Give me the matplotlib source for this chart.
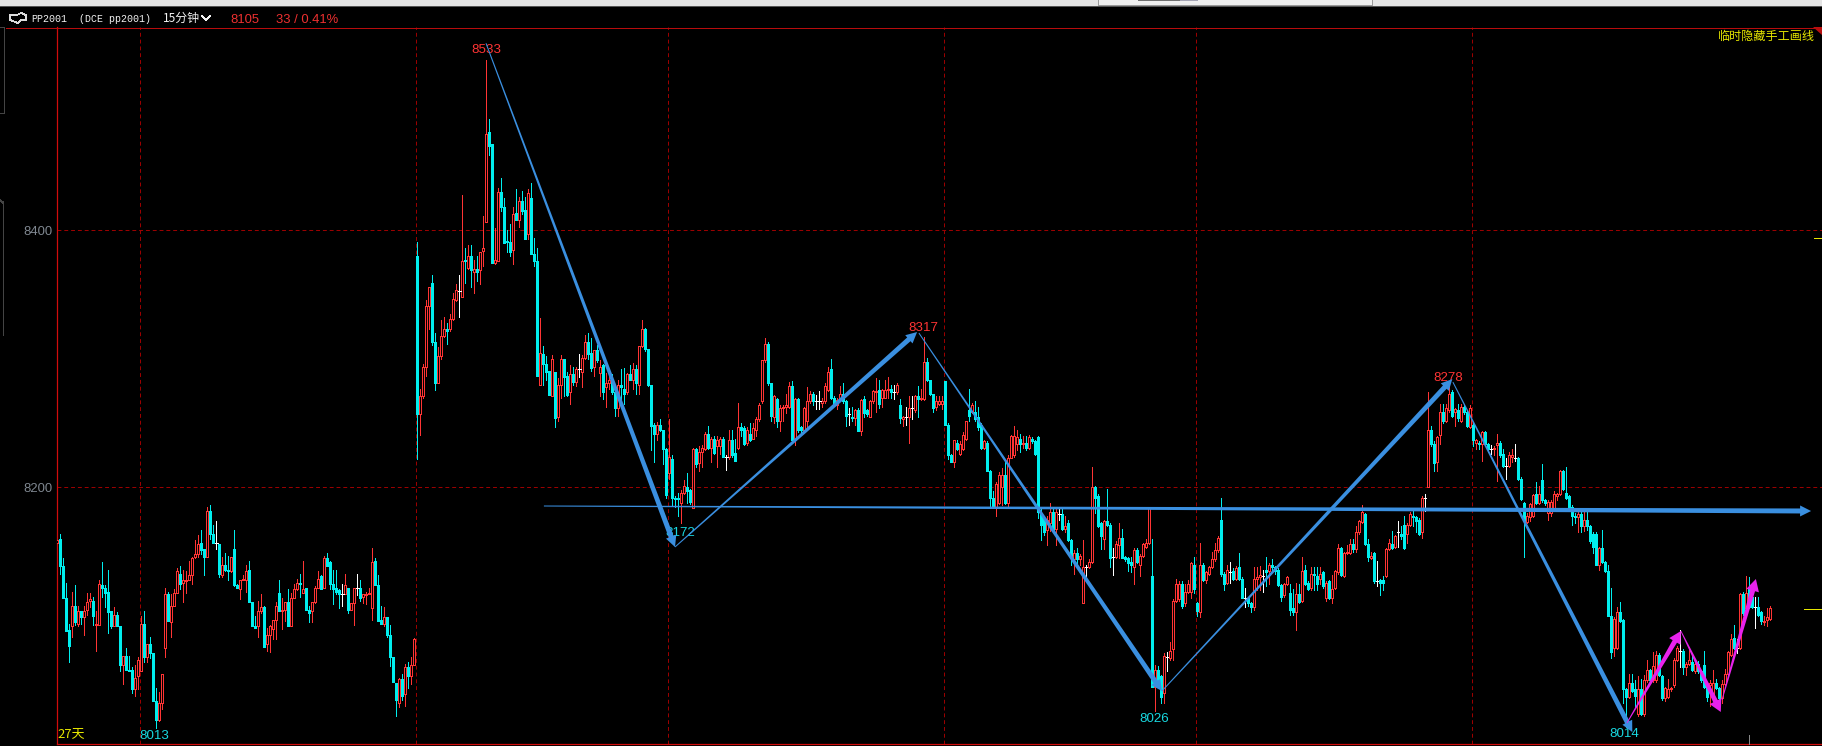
import numpy as np
import matplotlib
matplotlib.use("Agg")
import matplotlib.pyplot as plt
from matplotlib.patches import Polygon, Rectangle
from matplotlib.transforms import IdentityTransform

W, H = 1822, 746

# candle values
opens = [
    8157,8160,8139,8114,8089,8092,8108,8094,8104,8099,
    8105,8112,8112,8093,8093,8124,8122,8119,8104,8092,
    8101,8092,8062,8069,8058,8058,8043,8053,8057,8094,
    8068,8078,8071,8034,8019,8032,8075,8117,8095,8108,
    8118,8133,8126,8127,8128,8132,8146,8148,8157,8152,
    8146,8182,8164,8157,8156,8132,8140,8136,8135,8152,
    8124,8121,8128,8128,8136,8111,8092,8092,8104,8107,
    8078,8085,8090,8097,8118,8104,8105,8111,8092,8114,
    8121,8126,8118,8122,8105,8104,8111,8122,8131,8122,
    8145,8142,8125,8122,8120,8117,8117,8122,8105,8110,
    8122,8122,8115,8116,8117,8106,8143,8124,8097,8094,
    8099,8085,8068,8048,8032,8051,8039,8060,8053,8062,
    8380,8257,8271,8294,8341,8359,8313,8281,8302,8318,
    8323,8323,8331,8346,8353,8348,8377,8371,8380,8368,
    8370,8369,8384,8407,8477,8467,8375,8376,8430,8418,
    8392,8391,8385,8414,8408,8423,8416,8397,8425,8382,
    8376,8280,8304,8296,8291,8271,8290,8255,8280,8300,
    8287,8274,8288,8282,8292,8290,8301,8313,8305,8294,
    8307,8289,8295,8278,8281,8284,8274,8262,8280,8277,
    8274,8288,8284,8292,8280,8310,8323,8308,8280,8249,
    8242,8249,8245,8230,8211,8222,8192,8192,8188,8196,
    8200,8198,8184,8230,8219,8228,8230,8242,8231,8238,
    8232,8232,8238,8224,8224,
    8237,8227,8231,8247,8246,8235,8242,8238,8245,8253,
    8267,8299,8312,8281,8255,8269,8252,8262,8263,8263,
    8279,8237,8269,8247,8245,8252,8267,8273,8267,8267,
    8266,8267,8276,8292,8270,8264,8268,8273,8267,8257,
    8255,8254,8260,8244,8269,8260,8255,8267,8274,8276,
    8270,8270,8276,8277,8274,8274,8264,8253,8255,8255,
    8262,8260,8271,8269,8269,8298,8284,8273,8263,8265,
    8265,8283,8249,8225,8220,8235,8226,8230,8238,8260,
    8259,8259,8255,8249,8231,8235,8213,8192,8185,8188,
    8200,8210,8188,8223,8225,8234,8238,8234,8235,8231,
    8238,8236,8239,
    8179,8176,8167,8172,8181,8168,8179,8179,8168,8172,
    8159,8144,8149,8144,8110,8138,8138,8142,8200,8193,
    8172,8160,8174,8171,8146,8146,8155,8161,8146,8145,
    8142,8138,8151,8140,8147,8154,8157,8131,8045,8058,
    8053,8040,8068,8067,8074,8112,8113,8125,8110,8119,
    8119,8140,8110,8103,8140,8128,8133,8138,8144,8151,
    8175,8133,8126,8134,8135,8129,8138,8129,8114,8114,
    8110,8107,8129,8130,8131,8136,8135,8140,8138,8136,
    8124,8116,8125,8118,8106,8103,8117,8112,8136,8126,
    8122,8133,8131,8129,8134,8114,8127,8114,8122,8134,
    8153,8131,8149,8149,8156,8152,8165,8173,8179,8156,
    8145,8149,8127,8128,8128,8131,8152,8156,8154,8165,
    8164,8171,8164,8171,8178,8177,8175,8165,8192,
    8200,8245,8234,8220,8241,8259,8252,8260,8274,8259,
    8260,8252,8263,8259,8247,8249,8235,8235,8234,8243,
    8234,8230,8230,8233,8235,8226,8217,8217,8224,8223,
    8223,8207,8188,8173,8177,8178,8195,8188,8206,8190,
    8180,8180,8184,8193,8195,8213,8196,8193,8185,8178,
    8177,8179,8170,8175,8170,8164,8164,8140,8153,8142,
    8135,8100,8075,8075,8103,8097,8043,8037,8048,8043,
    8024,8043,8024,8050,8058,8050,8050,8070,8053,8036,
    8037,8043,8046,8066,8073,8073,8060,8063,8064,8057,
    8063,8057,8062,8046,8046,8036,8048,8044,8036,8047,
    8055,8070,8083,8075,8075,8117,8106,8121,8115,8107,
    8107,8103,8095,8097,8098,
]
closes = [
    8159,8139,8114,8088,8077,8108,8095,8104,8099,8104,
    8111,8113,8100,8094,8125,8122,8118,8103,8092,8101,
    8092,8062,8069,8058,8057,8043,8052,8066,8094,8068,
    8078,8071,8034,8019,8032,8055,8117,8096,8108,8118,
    8135,8125,8128,8128,8132,8145,8148,8156,8151,8146,
    8182,8164,8157,8157,8133,8140,8136,8135,8146,8124,
    8122,8128,8129,8135,8111,8092,8091,8104,8107,8076,
    8085,8092,8097,8108,8104,8105,8111,8092,8114,8121,
    8126,8125,8121,8105,8102,8111,8122,8129,8121,8145,
    8139,8125,8121,8119,8117,8117,8124,8105,8110,8122,
    8122,8114,8117,8117,8118,8142,8124,8096,8094,8099,
    8085,8068,8049,8035,8051,8038,8060,8053,8062,8082,
    8257,8271,8294,8341,8356,8313,8281,8302,8318,8323,
    8322,8331,8347,8354,8353,8376,8376,8380,8369,8370,
    8368,8383,8386,8475,8466,8375,8377,8430,8418,8390,
    8391,8383,8413,8408,8423,8415,8393,8429,8382,8376,
    8287,8305,8296,8290,8272,8300,8254,8280,8300,8286,
    8272,8288,8282,8292,8292,8301,8313,8304,8293,8307,
    8299,8294,8274,8281,8284,8274,8262,8280,8278,8273,
    8288,8284,8292,8281,8310,8323,8308,8280,8248,8242,
    8249,8245,8230,8194,8224,8192,8191,8191,8196,8201,
    8197,8189,8230,8218,8228,8231,8242,8231,8238,8227,
    8237,8238,8224,8224,8237,
    8225,8221,8247,8245,8234,8245,8237,8246,8253,8264,
    8299,8312,8281,8256,8271,8252,8262,8263,8264,8279,
    8237,8269,8245,8245,8262,8267,8273,8267,8267,8267,
    8267,8279,8290,8270,8265,8268,8273,8267,8256,8257,
    8254,8260,8244,8268,8258,8257,8267,8275,8275,8265,
    8276,8276,8277,8274,8274,8280,8254,8255,8255,8262,
    8262,8271,8269,8270,8298,8284,8273,8262,8267,8267,
    8267,8249,8225,8220,8237,8230,8234,8241,8252,8256,
    8264,8253,8247,8231,8236,8213,8192,8185,8203,8210,
    8210,8188,8223,8240,8240,8239,8234,8235,8231,8239,
    8236,8226,8181,
    8171,8165,8175,8181,8167,8181,8179,8168,8170,8159,
    8146,8149,8144,8147,8138,8138,8142,8200,8192,8170,
    8162,8174,8171,8145,8146,8156,8161,8145,8144,8141,
    8140,8151,8142,8147,8156,8157,8184,8045,8058,8046,
    8037,8069,8068,8073,8112,8125,8125,8108,8119,8125,
    8141,8121,8104,8140,8128,8134,8138,8144,8151,8161,
    8133,8125,8136,8134,8129,8137,8129,8114,8114,8110,
    8107,8129,8130,8132,8131,8134,8140,8138,8135,8124,
    8115,8125,8130,8105,8103,8117,8111,8135,8125,8121,
    8133,8132,8125,8133,8123,8126,8114,8121,8135,8153,
    8132,8149,8150,8156,8152,8165,8174,8181,8156,8146,
    8147,8127,8127,8126,8126,8152,8157,8153,8162,8165,
    8162,8153,8171,8179,8177,8174,8164,8192,8192,
    8245,8234,8219,8239,8259,8252,8262,8273,8256,8261,
    8254,8263,8259,8248,8262,8237,8237,8234,8243,8234,
    8230,8230,8231,8235,8225,8217,8217,8225,8225,8223,
    8207,8191,8174,8178,8187,8194,8188,8195,8190,8188,
    8189,8189,8195,8195,8213,8199,8192,8185,8178,8177,
    8179,8170,8175,8170,8158,8154,8140,8153,8142,8135,
    8100,8072,8098,8103,8096,8043,8037,8048,8042,8038,
    8043,8024,8050,8058,8050,8061,8070,8054,8036,8044,
    8043,8044,8066,8075,8073,8060,8063,8066,8058,8063,
    8057,8050,8045,8037,8048,8048,8044,8036,8047,8055,
    8072,8082,8075,8075,8117,8102,8118,8107,8107,8107,
    8101,8096,8096,8099,8106,
]
highs = [
    8171,8164,8145,8126,8094,8119,8124,8108,8104,8108,
    8118,8118,8115,8104,8128,8142,8124,8136,8104,8107,
    8103,8092,8069,8075,8069,8060,8062,8068,8100,8104,
    8078,8084,8071,8044,8041,8055,8122,8119,8117,8121,
    8137,8139,8136,8135,8143,8146,8159,8163,8167,8152,
    8185,8186,8171,8174,8156,8146,8149,8147,8146,8167,
    8125,8128,8132,8140,8143,8111,8100,8112,8117,8108,
    8091,8093,8097,8111,8128,8114,8111,8121,8118,8125,
    8129,8133,8143,8122,8108,8111,8123,8135,8132,8147,
    8149,8143,8136,8136,8121,8125,8133,8122,8110,8122,
    8133,8128,8117,8119,8122,8153,8145,8132,8108,8107,
    8099,8093,8068,8048,8052,8055,8063,8064,8068,8083,
    8391,8277,8296,8346,8356,8365,8320,8309,8330,8333,
    8328,8335,8351,8358,8365,8428,8386,8389,8389,8377,
    8380,8383,8411,8533,8487,8467,8402,8433,8441,8425,
    8400,8405,8418,8432,8426,8431,8426,8432,8437,8394,
    8386,8332,8310,8302,8291,8303,8290,8285,8303,8300,
    8290,8295,8294,8294,8304,8303,8319,8320,8316,8307,
    8311,8299,8296,8289,8290,8288,8274,8284,8292,8293,
    8289,8295,8297,8295,8310,8330,8324,8308,8280,8250,
    8251,8253,8245,8231,8253,8225,8193,8196,8198,8206,
    8211,8199,8231,8231,8232,8233,8243,8248,8239,8240,
    8240,8239,8239,8225,8245,
    8245,8238,8266,8250,8248,8247,8250,8250,8255,8266,
    8299,8316,8313,8281,8272,8270,8264,8264,8273,8282,
    8283,8270,8270,8248,8263,8278,8275,8274,8272,8275,
    8270,8281,8294,8300,8271,8270,8279,8281,8268,8262,
    8263,8261,8262,8269,8271,8261,8268,8276,8285,8284,
    8277,8284,8286,8280,8280,8281,8269,8256,8263,8271,
    8271,8272,8279,8277,8317,8301,8284,8273,8271,8271,
    8271,8283,8250,8226,8237,8237,8236,8243,8252,8277,
    8266,8267,8263,8250,8237,8236,8214,8197,8204,8212,
    8215,8221,8225,8241,8248,8245,8242,8240,8240,8241,
    8239,8237,8240,
    8183,8178,8178,8188,8184,8184,8184,8183,8178,8175,
    8160,8151,8153,8148,8159,8140,8144,8216,8201,8195,
    8173,8175,8199,8172,8153,8158,8172,8168,8147,8146,
    8146,8153,8153,8148,8157,8160,8185,8160,8062,8061,
    8054,8071,8072,8080,8113,8129,8127,8127,8125,8128,
    8142,8146,8111,8157,8141,8135,8139,8150,8157,8162,
    8192,8134,8140,8142,8137,8139,8149,8130,8122,8115,
    8111,8138,8138,8139,8136,8146,8141,8144,8139,8137,
    8125,8126,8131,8125,8121,8126,8125,8146,8140,8127,
    8138,8138,8138,8138,8135,8127,8128,8132,8136,8156,
    8154,8150,8155,8160,8160,8170,8175,8186,8180,8160,
    8150,8150,8143,8129,8131,8153,8160,8166,8163,8174,
    8170,8178,8172,8181,8182,8178,8176,8193,8195,
    8274,8248,8236,8240,8265,8265,8265,8278,8276,8262,
    8265,8265,8265,8260,8264,8250,8238,8236,8244,8244,
    8235,8233,8232,8242,8236,8230,8223,8228,8230,8234,
    8224,8208,8189,8180,8188,8195,8204,8201,8218,8191,
    8190,8190,8197,8196,8214,8214,8216,8194,8186,8180,
    8182,8181,8182,8184,8171,8165,8165,8154,8167,8143,
    8140,8122,8099,8107,8111,8098,8044,8055,8055,8050,
    8053,8051,8054,8066,8059,8072,8073,8071,8054,8045,
    8051,8045,8067,8077,8089,8074,8064,8076,8070,8064,
    8065,8058,8073,8047,8050,8058,8051,8045,8050,8059,
    8073,8086,8093,8082,8118,8119,8131,8130,8116,8115,
    8115,8104,8100,8106,8108,
]
lows = [
    8157,8133,8114,8088,8064,8084,8093,8092,8094,8085,
    8101,8107,8093,8073,8093,8115,8107,8087,8091,8092,
    8092,8057,8047,8058,8057,8040,8038,8043,8057,8064,
    8064,8067,8034,8013,8018,8028,8068,8096,8084,8108,
    8118,8121,8111,8118,8128,8125,8145,8146,8148,8132,
    8146,8160,8157,8152,8130,8130,8135,8128,8134,8123,
    8122,8113,8128,8119,8111,8092,8091,8084,8102,8076,
    8073,8072,8082,8082,8104,8090,8096,8092,8092,8114,
    8120,8115,8118,8105,8095,8095,8110,8122,8121,8122,
    8139,8121,8109,8117,8106,8108,8117,8102,8105,8093,
    8116,8112,8110,8109,8117,8097,8124,8096,8094,8092,
    8084,8061,8049,8022,8029,8035,8030,8044,8047,8062,
    8222,8241,8270,8287,8323,8311,8276,8281,8300,8317,
    8312,8322,8330,8345,8333,8348,8359,8370,8356,8351,
    8361,8358,8372,8407,8459,8375,8374,8376,8415,8390,
    8383,8380,8374,8408,8403,8413,8393,8393,8382,8372,
    8287,8280,8280,8284,8272,8271,8247,8252,8270,8271,
    8271,8265,8280,8279,8286,8278,8300,8300,8291,8287,
    8298,8271,8269,8263,8277,8273,8256,8256,8269,8265,
    8273,8284,8277,8273,8273,8309,8306,8279,8229,8220,
    8237,8244,8218,8192,8207,8186,8185,8178,8172,8195,
    8188,8187,8184,8216,8213,8216,8229,8230,8220,8226,
    8216,8226,8224,8214,8222,
    8224,8221,8230,8240,8233,8233,8236,8238,8240,8252,
    8266,8298,8280,8252,8250,8247,8244,8252,8258,8262,
    8236,8233,8243,8242,8243,8245,8266,8264,8261,8261,
    8263,8266,8275,8269,8264,8261,8267,8266,8248,8249,
    8252,8249,8244,8241,8255,8256,8255,8266,8259,8262,
    8263,8270,8270,8270,8269,8273,8250,8248,8249,8235,
    8253,8259,8255,8268,8268,8283,8272,8259,8260,8264,
    8261,8249,8222,8220,8216,8229,8225,8229,8237,8252,
    8258,8252,8245,8230,8230,8213,8184,8184,8178,8187,
    8186,8187,8185,8223,8224,8229,8228,8231,8229,8230,
    8235,8225,8176,
    8159,8163,8155,8166,8166,8155,8175,8167,8165,8158,
    8140,8133,8137,8140,8110,8129,8137,8141,8180,8169,
    8152,8152,8170,8138,8132,8145,8145,8145,8143,8135,
    8134,8125,8141,8131,8146,8153,8156,8045,8026,8045,
    8032,8032,8057,8066,8066,8111,8112,8106,8108,8118,
    8114,8118,8100,8099,8127,8126,8132,8137,8143,8150,
    8131,8120,8125,8126,8128,8128,8128,8114,8107,8108,
    8103,8105,8120,8120,8119,8123,8125,8136,8133,8123,
    8112,8115,8124,8101,8101,8089,8110,8111,8124,8120,
    8120,8120,8120,8125,8122,8112,8113,8110,8121,8133,
    8131,8130,8148,8148,8150,8150,8164,8172,8155,8143,
    8144,8126,8123,8116,8120,8130,8151,8152,8153,8154,
    8160,8152,8157,8170,8170,8165,8163,8161,8182,
    8200,8232,8213,8213,8234,8250,8251,8259,8255,8248,
    8252,8251,8257,8247,8246,8232,8230,8230,8221,8233,
    8228,8226,8225,8205,8224,8216,8207,8216,8220,8221,
    8206,8190,8146,8172,8174,8177,8187,8187,8189,8186,
    8175,8178,8183,8190,8194,8198,8191,8184,8171,8172,
    8165,8165,8166,8167,8157,8149,8140,8136,8141,8134,
    8100,8067,8069,8074,8095,8032,8014,8036,8041,8029,
    8022,8023,8022,8049,8049,8049,8049,8053,8035,8034,
    8036,8042,8045,8065,8060,8055,8054,8062,8057,8056,
    8056,8049,8044,8034,8030,8035,8043,8032,8032,8046,
    8054,8069,8074,8071,8074,8101,8102,8106,8106,8091,
    8100,8094,8093,8092,8097,
]

price_ticks = [8200, 8400]
day_lines = [27.67, 119.67, 203.67, 295.67, 379.67, 471.67]

# swing labels: index, price, text
swing_x = [142.9, 207.6, 288.6, 365.6, 463.6, 522.2, 32.2]
swing_y = [8540.5, 8164.6, 8324.0, 8019.9, 8285.2, 8008.2, 8006.6]
swing_text = ["8533", "8172", "8317", "8026", "8278", "8014", "8013"]
swing_up = [True, False, True, False, True, False, False]

# hand drawn arrows: start index, start price, end index, end price
blue_x0 = [142.9, 205.9, 287.2, 368.2, 465.2, 162.2]
blue_y0 = [8545.7, 8153.7, 8320.2, 8041.6, 8282.0, 8185.6]
blue_x1 = [205.9, 286.6, 368.2, 465.0, 525.0, 584.6]
blue_y1 = [8153.7, 8321.0, 8041.6, 8284.4, 8009.7, 8181.7]
pink_x0 = [523.2, 541.2, 554.9]
pink_y0 = [8016.7, 8088.3, 8034.6]
pink_x1 = [541.2, 554.5, 566.2]
pink_y1 = [8088.3, 8025.3, 8128.8]

RED = "#ff3434"
CYAN = "#00eeee"
GRID = "#a00000"
AXIS = "#b80c0c"
BLUE = "#3a8fe0"
PINK = "#e822ec"
YELLOW = "#e6e600"
CJK = ["Noto Sans CJK SC", "DejaVu Sans"]

fig = plt.figure(figsize=(W / 100, H / 100), dpi=100, facecolor="black")
left, right, top, bottom = 56.5, W, 27.0, 744.0
ax = fig.add_axes([left / W, 1 - bottom / H, (right - left) / W, (bottom - top) / H])
ax.set_facecolor("black")
ax.set_xlim((left - 57.3) / 3, (right - 57.3) / 3)
ax.set_ylim(8400 - (bottom - 230.5) / 1.285, 8400 - (top - 230.5) / 1.285)

for s in ["top", "right"]:
    ax.spines[s].set_visible(False)
for s in ["left", "bottom"]:
    ax.spines[s].set_color("#d00c0c")
    ax.spines[s].set_linewidth(0.9)
ax.set_xticks([])
ax.set_yticks(price_ticks)
ax.tick_params(axis="y", length=0, pad=3, labelcolor="#7f8790", labelsize=9.4)
for lab in ax.get_yticklabels():
    lab.set_family("Liberation Sans")

ax.hlines(price_ticks, ax.get_xlim()[0], ax.get_xlim()[1], color=GRID, lw=0.7,
          linestyles=(0, (4, 3)), zorder=1)
ax.vlines(day_lines, ax.get_ylim()[0], ax.get_ylim()[1], color=GRID, lw=0.7,
          linestyles=(0, (4, 3)), zorder=1)

o = np.array(opens, dtype=float)
c = np.array(closes, dtype=float)
hi = np.array(highs, dtype=float)
lo = np.array(lows, dtype=float)
x = np.arange(len(o))
colors = np.where(c > o, RED, np.where(c < o, CYAN, "#ffffff"))

ax.vlines(x, lo, hi, colors=list(colors), lw=0.7, zorder=2, antialiased=False)
up = c > o
down = c < o
flat = c == o
ax.bar(x[up], (c - o)[up], bottom=o[up], width=0.6, facecolor="black", edgecolor=RED,
       linewidth=0.68, zorder=3, antialiased=False)
ax.bar(x[down], (c - o)[down], bottom=o[down], width=0.6, facecolor=CYAN, edgecolor=CYAN,
       linewidth=0.68, zorder=3, antialiased=False)
ax.hlines(o[flat], x[flat] - 0.4, x[flat] + 0.4, colors="#ffffff", lw=0.7, zorder=3, antialiased=False)


def hand_arrow(x0, y0, x1, y1, color, w0=1.0, w1=5.0, head_w=11.0, head_l=11.0):
    # tapered line with a head, worked out in screen pixels
    p0, p1 = ax.transData.transform([(x0, y0), (x1, y1)])
    d = p1 - p0
    n = np.hypot(*d)
    u = d / n
    v = np.array([-u[1], u[0]])
    b = p1 - u * head_l
    pts = [p0 + v * w0 / 2, b + v * w1 / 2, b + v * head_w / 2, p1,
           b - v * head_w / 2, b - v * w1 / 2, p0 - v * w0 / 2]
    fig.add_artist(Polygon(pts, closed=True, facecolor=color, edgecolor="none",
                           transform=IdentityTransform(), zorder=6))


for a, b, d, e in zip(blue_x0, blue_y0, blue_x1, blue_y1):
    hand_arrow(a, b, d, e, BLUE)
for a, b, d, e in zip(pink_x0, pink_y0, pink_x1, pink_y1):
    hand_arrow(a, b, d, e, PINK, w0=0.8, w1=5.0, head_w=13.0, head_l=12.0)

for sx, sy, t, is_up in zip(swing_x, swing_y, swing_text, swing_up):
    ax.text(sx, sy, t, color=RED if is_up else "#18d8e0", fontsize=9.6, ha="center", va="center",
            family="Liberation Sans", zorder=7)


def px_text(px, py, s, **kw):
    fig.text(px / W, 1 - py / H, s, va="center", **kw)


def px_rect(x0, y0, x1, y1, color, **kw):
    fig.add_artist(Rectangle((x0 / W, 1 - y1 / H), (x1 - x0) / W, (y1 - y0) / H, facecolor=color,
                             edgecolor="none", transform=fig.transFigure, **kw))


def px_line(xs, ys, color, lw=0.7):
    fig.add_artist(plt.Line2D([v / W for v in xs], [1 - v / H for v in ys], color=color, lw=lw,
                              transform=fig.transFigure, antialiased=False))


# window chrome above the chart
px_rect(0, 0, W, 5.7, "#e4e4e4")
px_rect(0, 5.7, W, 7.3, "#555555")
px_rect(1098, 0, 1372, 5.2, "#efefef")
px_rect(1138, 0, 1180, 1, "#707070")
px_rect(1180, 0, 1198, 1, "#a4a4b4")
px_line([1098, 1098, 1372, 1372], [0, 5, 5, 0], "#9a9a9a")

px_line([6, W], [27.5, 27.5], AXIS)
px_line([0, 3.5, 3.5, 0], [27, 27, 113, 113], "#444444")
px_line([0, 3.5, 3.5], [200, 203, 335], "#444444")
px_line([1814, W], [238, 238], YELLOW)
px_line([1804, W], [608.5, 608.5], YELLOW)
px_line([1748.5, 1748.5], [735, 744], "#888888")
fig.add_artist(Polygon([(1813 / W, 1 - 27 / H), (1 - 0.0, 1 - 27 / H), (1, 1 - 35 / H)], closed=True,
                       facecolor="#b81010", edgecolor="none", transform=fig.transFigure))

# header row
px_line([10, 17, 21, 26, 26, 21, 18, 10, 10], [15, 15, 13, 15, 20, 20, 23, 20, 15], "#dddddd", lw=0.6)
px_text(31, 19, "PP2001", color="#f2f2f2", fontsize=7.2, family="Liberation Mono")
px_text(79, 19, "(DCE pp2001)", color="#f2f2f2", fontsize=7.2, family="Liberation Mono")
px_text(163, 18.5, "15分钟", color="#f2f2f2", fontsize=8.6, family=CJK)
px_line([202, 206, 210], [16, 20, 16], "#f2f2f2", lw=0.9)
px_text(230, 20, "8105", color="#ee3030", fontsize=9.4, family="Liberation Sans")
px_text(276, 20, "33 / 0.41%", color="#ee3030", fontsize=9.4, family="Liberation Sans")
px_text(1718, 36, "临时隐藏手工画线", color=YELLOW, fontsize=8.7, family=CJK)
px_text(57, 735, "27天", color=YELLOW, fontsize=9.4, family=CJK)

fig.savefig("out.png", dpi=100, facecolor="black")
